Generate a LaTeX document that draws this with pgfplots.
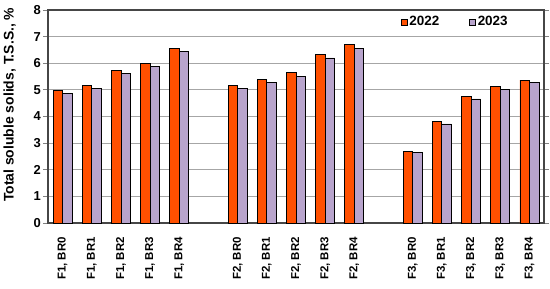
\documentclass[border=0pt]{standalone}
\usepackage{fontspec}
\setmainfont{Liberation Sans}
\usepackage{pgfplots}
\pgfplotsset{compat=1.18}
\definecolor{orng}{RGB}{255,80,0}
\definecolor{lav}{RGB}{184,164,204}
\definecolor{frame}{RGB}{70,70,70}
\begin{document}
\begin{tikzpicture}
\begin{axis}[
  scale only axis, width=496bp, height=213bp,
  ymin=0, ymax=8, ytick={0,...,8},
  xmin=-0.5, xmax=16.5,
  ybar=0pt, bar width=9.5bp,
  xtick={0,1,2,3,4,6,7,8,9,10,12,13,14,15,16},
  xticklabels={{F1, BR0},{F1, BR1},{F1, BR2},{F1, BR3},{F1, BR4},
               {F2, BR0},{F2, BR1},{F2, BR2},{F2, BR3},{F2, BR4},
               {F3, BR0},{F3, BR1},{F3, BR2},{F3, BR3},{F3, BR4}},
  x tick label style={rotate=90, anchor=east, font=\bfseries\fontsize{11.5}{13}\selectfont, inner sep=0pt},
  xticklabel shift=9bp,
  y tick label style={font=\bfseries\fontsize{13}{15}\selectfont, inner sep=2pt},
  /pgf/number format/assume math mode=true,
  xtick style={draw=none},
  minor xtick={-0.5,0.5,...,16.5},
  minor tick length=5bp,
  tick align=outside,
  major tick length=5bp,
  ytick style={color=gray, line width=0.8bp},
  minor tick style={color=gray, line width=0.8bp},
  ymajorgrids, grid style={gray!70, line width=0.9bp},
  axis line style={frame, line width=1.2bp},
  ylabel={Total soluble solids, T.S.S., \%},
  ylabel style={font=\bfseries\fontsize{14}{16}\selectfont, at={(axis description cs:-0.058,0.555)}},
  legend style={at={(axis description cs:0.709,0.985)}, anchor=north west, draw=none, fill=none,
    legend columns=2, font=\bfseries\fontsize{13.5}{15}\selectfont, inner sep=1pt,
    /tikz/every even column/.append style={column sep=28bp}},
  legend image code/.code={\draw[#1, draw=black, line width=0.5bp, bar width=0pt] (0bp,-3bp) rectangle (6bp,3bp);},
]
\addplot[fill=orng, draw=black, line width=0.8bp] coordinates {
(0,4.97) (1,5.17) (2,5.74) (3,5.99) (4,6.56)
(6,5.17) (7,5.39) (8,5.65) (9,6.32) (10,6.71)
(12,2.69) (13,3.80) (14,4.75) (15,5.12) (16,5.37)};
\addplot[fill=lav, draw=black, line width=0.8bp] coordinates {
(0,4.85) (1,5.06) (2,5.62) (3,5.87) (4,6.45)
(6,5.07) (7,5.29) (8,5.52) (9,6.20) (10,6.56)
(12,2.64) (13,3.72) (14,4.66) (15,5.02) (16,5.27)};
\legend{2022,2023}
\end{axis}
\pgfresetboundingbox
\path[use as bounding box] ([xshift=-48bp,yshift=-66bp]current axis.south west) rectangle ([xshift=6bp,yshift=10bp]current axis.north east);
\end{tikzpicture}
\end{document}
